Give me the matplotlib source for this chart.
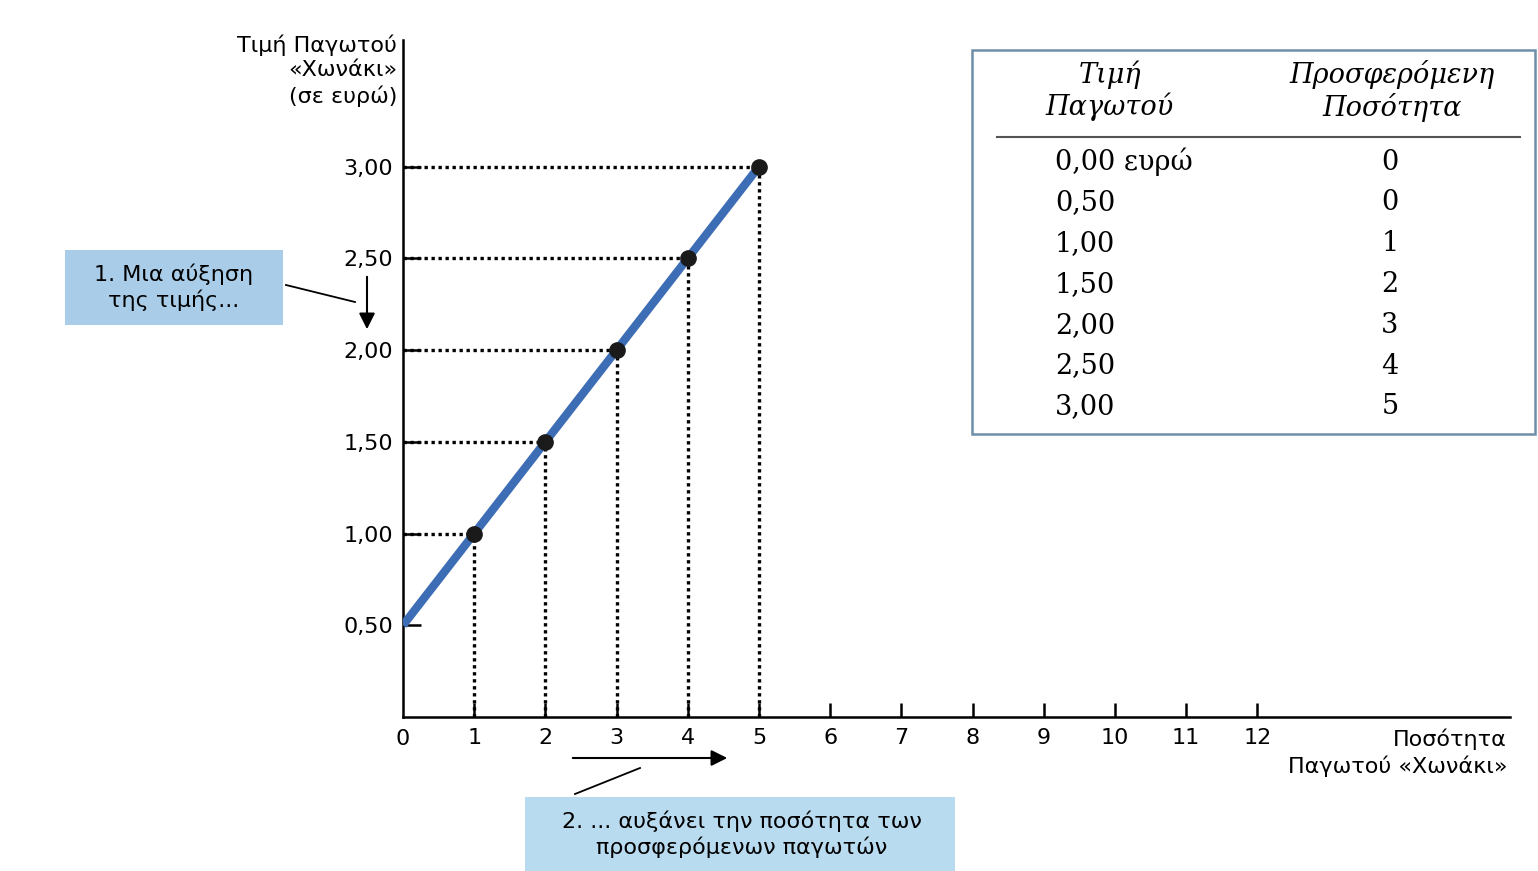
import numpy as np
import matplotlib.pyplot as plt
from matplotlib.patches import Rectangle

# data (supply schedule)
prices = [0.00, 0.50, 1.00, 1.50, 2.00, 2.50, 3.00]
quantities = [0, 0, 1, 2, 3, 4, 5]
xticks = list(range(1, 13))
yticks = [0.50, 1.00, 1.50, 2.00, 2.50, 3.00]

W, H = 1538, 871
SANS = ['DejaVu Sans']
SERIF = ['DejaVu Serif']
FS = 16      # sans text
TFS = 19.5   # table text


def fx(x):
    return x / W


def fy(y):
    return 1 - y / H


def comma(v):
    return ('%.2f' % v).replace('.', ',')


fig = plt.figure(figsize=(W / 100, H / 100), dpi=100)
fig.patch.set_facecolor('white')

# main axes: origin at pixel (403, 717)
ax = fig.add_axes([fx(403), fy(717), fx(1510) - fx(403), fy(40) - fy(717)])
ax.set_xlim(0, 15.55)
ax.set_ylim(0, 3.69)
ax.spines['top'].set_visible(False)
ax.spines['right'].set_visible(False)
ax.spines['left'].set_linewidth(1.8)
ax.spines['bottom'].set_linewidth(1.8)

ax.set_xticks(xticks)
ax.set_xticklabels([str(t) for t in xticks], fontsize=FS, family=SANS)
ax.set_yticks(yticks)
ax.set_yticklabels([comma(t) for t in yticks], fontsize=FS, family=SANS)
ax.tick_params(axis='x', direction='in', length=10, width=1.8, pad=8)
ax.tick_params(axis='y', direction='in', length=13, width=1.8, pad=7)
ax.text(0, -0.065, '0', ha='center', va='top', fontsize=FS, family=SANS)

# supply curve
q = np.array(quantities)
p = np.array(prices)
on_curve = p >= 0.5
ax.plot(q[on_curve], p[on_curve], color='#3d6db5', lw=6, solid_capstyle='butt', zorder=3)
pts = q > 0
for qi, pi in zip(q[pts], p[pts]):
    ax.plot([qi, qi], [0, pi], color='black', ls=(0, (1, 1.1)), lw=2.4, zorder=2)
    ax.plot([0, qi], [pi, pi], color='black', ls=(0, (1, 1.1)), lw=2.4, zorder=2)
ax.plot(q[pts], p[pts], 'o', color='#1a1a1a', ms=11, zorder=4)

# axis titles
fig.text(fx(397), fy(34), 'Τιμή Παγωτού\n«Χωνάκι»\n(σε ευρώ)', ha='right', va='top',
         fontsize=FS, family=SANS, linespacing=1.3)
fig.text(fx(1507), fy(729), 'Ποσότητα\nΠαγωτού «Χωνάκι»', ha='right', va='top',
         fontsize=FS, family=SANS, linespacing=1.3, multialignment='right')

# annotation box 1
fig.patches.append(Rectangle((fx(65), fy(325)), fx(283) - fx(65), fy(250) - fy(325),
                             transform=fig.transFigure, facecolor='#a9cde9', edgecolor='none'))
fig.text(fx(174), fy(287), '1. Μια αύξηση\nτης τιμής...', ha='center', va='center',
         fontsize=FS, family=SANS, linespacing=1.25)
fig.add_artist(plt.Line2D([fx(286), fx(355)], [fy(285), fy(302)], color='black', lw=1.3))
ax.annotate('', xy=(fx(367), fy(332)), xytext=(fx(367), fy(274)),
            xycoords='figure fraction', textcoords='figure fraction',
            arrowprops=dict(arrowstyle='-|>', color='black', lw=1.5, mutation_scale=24))

# annotation box 2
fig.patches.append(Rectangle((fx(525), fy(871)), fx(955) - fx(525), fy(797) - fy(871),
                             transform=fig.transFigure, facecolor='#b9dbf0', edgecolor='none'))
fig.text(fx(742), fy(834), '2. ... αυξάνει την ποσότητα των\nπροσφερόμενων παγωτών',
         ha='center', va='center', fontsize=FS, family=SANS, linespacing=1.25)
fig.add_artist(plt.Line2D([fx(575), fx(640)], [fy(794), fy(768)], color='black', lw=1.3))
ax.annotate('', xy=(fx(730), fy(758)), xytext=(fx(570), fy(758)),
            xycoords='figure fraction', textcoords='figure fraction',
            arrowprops=dict(arrowstyle='-|>', color='black', lw=1.5, mutation_scale=24))

# schedule table
fig.patches.append(Rectangle((fx(972), fy(434)), fx(1535) - fx(972), fy(50) - fy(434),
                             transform=fig.transFigure, facecolor='white',
                             edgecolor='#6f8fa8', lw=1.8))
fig.text(fx(1110), fy(91), 'Τιμή\nΠαγωτού', ha='center', va='center', fontsize=TFS,
         family=SERIF, style='italic', linespacing=1.15)
fig.text(fx(1392), fy(91), 'Προσφερόμενη\nΠοσότητα', ha='center', va='center', fontsize=TFS,
         family=SERIF, style='italic', linespacing=1.15)
fig.add_artist(plt.Line2D([fx(997), fx(1520)], [fy(137), fy(137)], color='#555555', lw=1.5))
for i, (pr, qu) in enumerate(zip(prices, quantities)):
    yy = 162 + i * 40.8
    label = comma(pr) + (' ευρώ' if i == 0 else '')
    fig.text(fx(1055), fy(yy), label, ha='left', va='center', fontsize=TFS, family=SERIF)
    fig.text(fx(1390), fy(yy), str(qu), ha='center', va='center', fontsize=TFS, family=SERIF)

fig.savefig('out.png', dpi=100)
